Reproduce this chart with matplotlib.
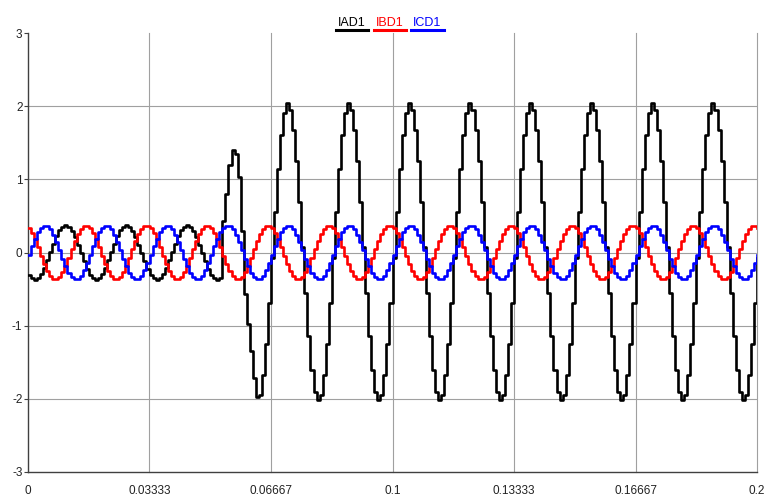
import numpy as np
import matplotlib
matplotlib.use("Agg")
import matplotlib.pyplot as plt
from matplotlib.lines import Line2D

# ---------------- data ----------------
sample_rate = 1200          # samples per second (20 per 60 Hz cycle)
n_samples = 241             # 0 .. 0.2 s
fault_start_index = 64
steady_start_index = 76

# phase A before the fault: one 20-sample cycle
ia_prefault_cycle = [-0.303, -0.354, -0.370, -0.350, -0.296, -0.212, -0.108, 0.006, 0.120, 0.223,
                     0.303, 0.354, 0.370, 0.350, 0.296, 0.212, 0.108, -0.006, -0.120, -0.223]
# phase A first samples after the fault (index 64 .. 75)
ia_fault_transient = [0.43, 0.80, 1.20, 1.40, 1.35, 1.03, 0.30, -0.57, -0.98, -1.35, -1.72, -1.97]
# phase A steady fault cycle (indexed by sample mod 20)
ia_fault_cycle = [-0.07, 0.56, 1.14, 1.60, 1.91, 2.04, 1.95, 1.68, 1.25, 0.69,
                  0.07, -0.56, -1.14, -1.60, -1.91, -2.02, -1.95, -1.68, -1.25, -0.69]
# phases B and C: one 20-sample cycle each, unchanged by the fault
ib_cycle = [0.335, 0.271, 0.179, 0.071, -0.045, -0.156, -0.252, -0.324, -0.363, -0.367,
            -0.335, -0.271, -0.179, -0.071, 0.045, 0.156, 0.252, 0.324, 0.363, 0.367]
ic_cycle = [-0.032, 0.083, 0.191, 0.279, 0.341, 0.369, 0.360, 0.317, 0.243, 0.145,
            0.032, -0.083, -0.191, -0.279, -0.341, -0.369, -0.360, -0.317, -0.243, -0.145]

series_names = ["IAD1", "IBD1", "ICD1"]
series_colors = ["#000000", "#ff0000", "#0000ff"]
x_ticks = [0, 0.03333, 0.06667, 0.1, 0.13333, 0.16667, 0.2]
x_tick_labels = ["0", "0.03333", "0.06667", "0.1", "0.13333", "0.16667", "0.2"]
y_ticks = [-3, -2, -1, 0, 1, 2, 3]
y_tick_labels = ["-3", "-2", "-1", "0", "1", "2", "3"]

# ---------------- assemble series ----------------
idx = np.arange(n_samples)
t = idx / sample_rate
n_rep = n_samples // 20 + 1
pre = np.tile(ia_prefault_cycle, n_rep)
post = np.tile(ia_fault_cycle, n_rep)
ia = np.concatenate([pre[:fault_start_index],
                     np.array(ia_fault_transient),
                     post[steady_start_index:n_samples]])
ib = np.tile(ib_cycle, n_rep)[:n_samples]
ic = np.tile(ic_cycle, n_rep)[:n_samples]

# ---------------- plot ----------------
plt.rcParams['font.family'] = ['Liberation Sans', 'DejaVu Sans']
W, H = 769, 496
fig = plt.figure(figsize=(W / 100, H / 100), dpi=100)
ax = fig.add_axes([28 / W, 1 - 472 / H, (757 - 28) / W, (472 - 33) / H])

for y, col, name in zip([ia, ib, ic], series_colors, series_names):
    ax.step(t, y, where='post', color=col, lw=1.9, label=name, zorder=3)

ax.set_xlim(0, 0.2)
ax.set_ylim(-3, 3)
ax.set_xticks(x_ticks)
ax.set_xticklabels(x_tick_labels)
ax.set_yticks(y_ticks)
ax.set_yticklabels(y_tick_labels)

grid_col = "#a0a0a0"
for yv in y_ticks[1:-1]:
    ax.axhline(yv, color=grid_col, lw=0.8, zorder=1)
for xv in x_ticks[1:]:
    ax.axvline(xv, color=grid_col, lw=0.8, zorder=1, clip_on=False)

for s in ['top', 'right']:
    ax.spines[s].set_visible(False)
for s in ['left', 'bottom']:
    ax.spines[s].set_color('#404040')
    ax.spines[s].set_linewidth(1.0)

ax.tick_params(axis='x', length=0, pad=9, labelsize=8.5, colors='#222222')
ax.tick_params(axis='y', length=3, width=0.8, pad=1, labelsize=8.5, colors='#222222')
ax.tick_params(axis='y', color='#404040')

# legend drawn at the top: label text with a thick coloured bar underneath
legend_centers = [352, 390, 427.5]
legend_halfwidths = [16, 16, 16.5]
for name, col, cx, hw in zip(series_names, series_colors, legend_centers, legend_halfwidths):
    fig.text(cx / W, 1 - 26 / H, name, color=col, ha='center', va='baseline', fontsize=9)
    fig.add_artist(Line2D([(cx - hw) / W, (cx + hw) / W], [1 - 29.5 / H, 1 - 29.5 / H],
                          color=col, lw=2.2, transform=fig.transFigure))

fig.savefig("out.png", dpi=100, facecolor='white')
